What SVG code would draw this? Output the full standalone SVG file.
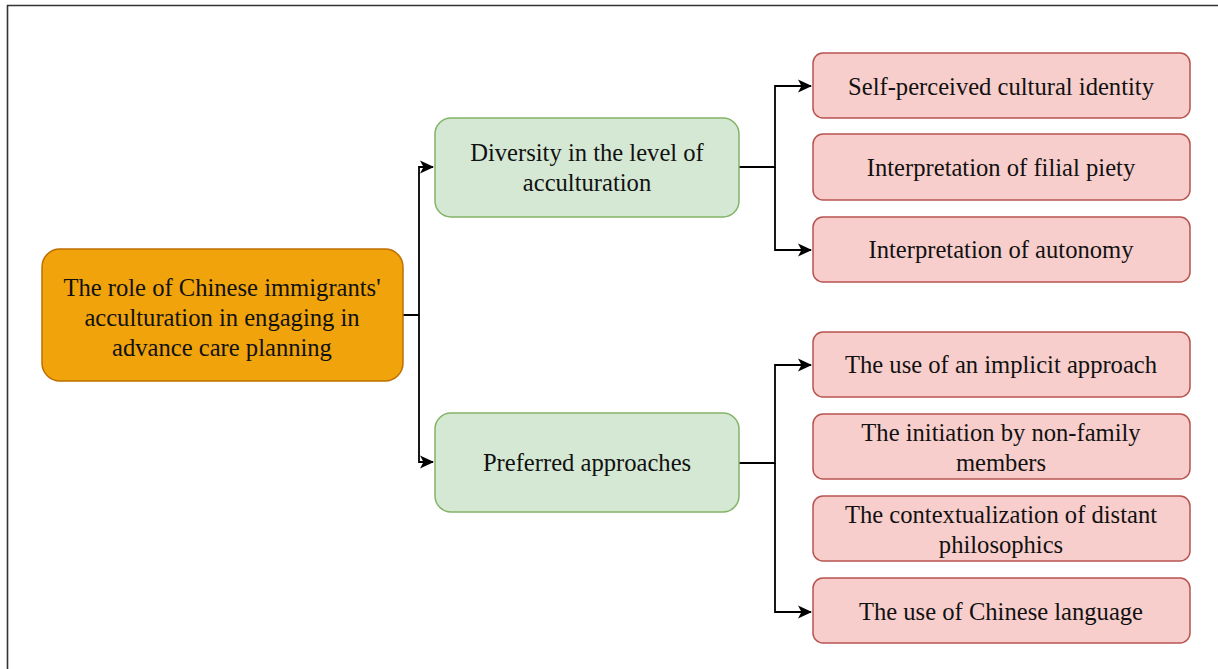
<svg xmlns="http://www.w3.org/2000/svg" width="1218" height="669" viewBox="0 0 1218 669">
<style>
text{font-family:"Liberation Serif","Times New Roman",serif;font-size:24.6px;fill:#111;text-anchor:middle}
.orange{fill:#F0A30A;stroke:#BD7000;stroke-width:1.5}
.green{fill:#D5E8D4;stroke:#82B366;stroke-width:1.5}
.pink{fill:#F8CECC;stroke:#B85450;stroke-width:1.5}
.conn{fill:none;stroke:#000;stroke-width:1.8}
</style>
<defs>
<marker id="arr" markerWidth="14" markerHeight="14" refX="13" refY="7" orient="auto" markerUnits="userSpaceOnUse">
<path d="M0,0.5 L14,7 L0,13.5 L3.5,7 Z" fill="#000"/>
</marker>
</defs>
<rect width="1218" height="669" fill="#fff"/>
<path d="M7.5,669 V5.5 H1218" fill="none" stroke="#333" stroke-width="1.6"/>
<g id="connectors">
<path class="conn" d="M403,315 H419 V167 H433" marker-end="url(#arr)"/>
<path class="conn" d="M419,315 V462 H433" marker-end="url(#arr)"/>
<path class="conn" d="M739,167 H775 V86 H811" marker-end="url(#arr)"/>
<path class="conn" d="M775,167 V250 H811" marker-end="url(#arr)"/>
<path class="conn" d="M739,463 H775 V365 H811" marker-end="url(#arr)"/>
<path class="conn" d="M775,463 V612 H811" marker-end="url(#arr)"/>
</g>
<g id="root">
<rect class="orange" x="42" y="249" width="361" height="132" rx="18"/>
<text x="222" y="296">The role of Chinese immigrants'</text>
<text x="222" y="326">acculturation in engaging in</text>
<text x="222" y="356">advance care planning</text>
</g>
<g id="diversity">
<rect class="green" x="435" y="118" width="304" height="99" rx="16"/>
<text x="587" y="161">Diversity in the level of</text>
<text x="587" y="191">acculturation</text>
</g>
<g id="preferred">
<rect class="green" x="435" y="413" width="304" height="99" rx="16"/>
<text x="587" y="471">Preferred approaches</text>
</g>
<g id="identity">
<rect class="pink" x="813" y="53" width="377" height="65" rx="10"/>
<text x="1001" y="95">Self-perceived cultural identity</text>
</g>
<g id="filial">
<rect class="pink" x="813" y="134" width="377" height="66" rx="10"/>
<text x="1001" y="176">Interpretation of filial piety</text>
</g>
<g id="autonomy">
<rect class="pink" x="813" y="217" width="377" height="65" rx="10"/>
<text x="1001" y="258">Interpretation of autonomy</text>
</g>
<g id="implicit">
<rect class="pink" x="813" y="332" width="377" height="65" rx="10"/>
<text x="1001" y="373">The use of an implicit approach</text>
</g>
<g id="initiation">
<rect class="pink" x="813" y="414" width="377" height="65" rx="10"/>
<text x="1001" y="441">The initiation by non-family</text>
<text x="1001" y="471">members</text>
</g>
<g id="contextualization">
<rect class="pink" x="813" y="496" width="377" height="65" rx="10"/>
<text x="1001" y="523">The contextualization of distant</text>
<text x="1001" y="553">philosophics</text>
</g>
<g id="language">
<rect class="pink" x="813" y="578" width="377" height="65" rx="10"/>
<text x="1001" y="620">The use of Chinese language</text>
</g>
</svg>
